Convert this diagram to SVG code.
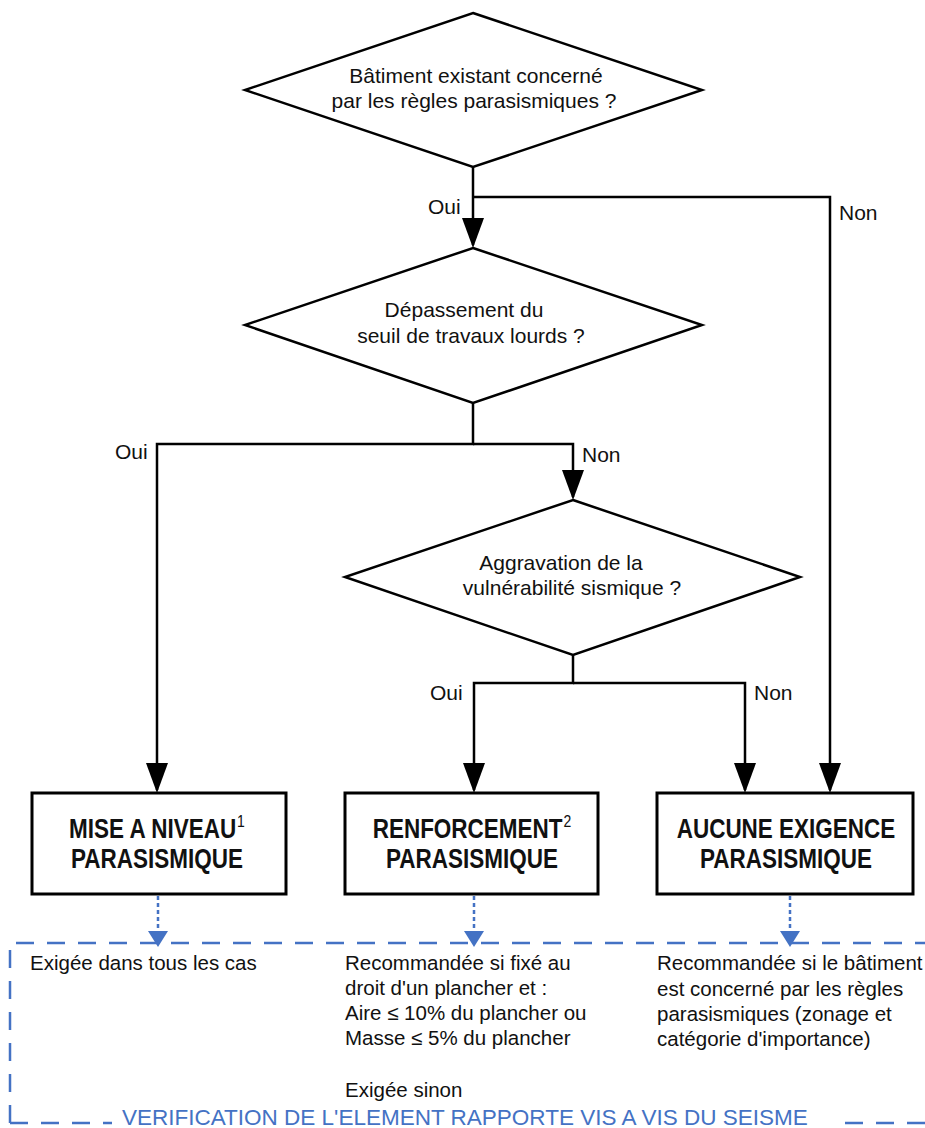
<svg xmlns="http://www.w3.org/2000/svg" width="925" height="1128" viewBox="0 0 925 1128">
  <defs>
    <style>
      .shape { fill: #ffffff; stroke: #000000; stroke-width: 2.5; }
      .box { fill: #ffffff; stroke: #000000; stroke-width: 3; }
      .conn { fill: none; stroke: #000000; stroke-width: 2.5; }
      .dot { fill: none; stroke: #4472C4; stroke-width: 2.5; stroke-dasharray: 4 3; }
      .frame { fill: none; stroke: #4472C4; stroke-width: 2.5; stroke-dasharray: 18 13; }
      .q { font-family: "Liberation Sans", Arial, sans-serif; font-size: 21px; fill: #111111; text-anchor: middle; }
      .lbl { font-family: "Liberation Sans", Arial, sans-serif; font-size: 21px; fill: #111111; }
      .bt { font-family: "Liberation Sans", Arial, sans-serif; font-size: 22.5px; font-weight: bold; fill: #111111; text-anchor: middle; }
      .sup { font-size: 14px; font-weight: normal; }
      .note { font-family: "Liberation Sans", Arial, sans-serif; font-size: 20.5px; fill: #111111; }
      .title { font-family: "Liberation Sans", Arial, sans-serif; font-size: 22.5px; fill: #4472C4; }
    </style>
    <marker id="ah" markerUnits="userSpaceOnUse" markerWidth="30" markerHeight="22" viewBox="0 0 30 22" refX="27" refY="11" orient="auto">
      <path d="M0,0 L30,11 L0,22 Z" fill="#000000"/>
    </marker>
    <marker id="ahb" markerUnits="userSpaceOnUse" markerWidth="16" markerHeight="20" viewBox="0 0 16 20" refX="13" refY="10" orient="auto">
      <path d="M0,0 L16,10 L0,20 Z" fill="#4472C4"/>
    </marker>
  </defs>
  <rect x="0" y="0" width="925" height="1128" fill="#ffffff"/>

  <g id="connectors">
    <path class="conn" d="M473,167 V245" marker-end="url(#ah)"/>
    <path class="conn" d="M473,197 H830 V790" marker-end="url(#ah)"/>
    <path class="conn" d="M473,403 V444 H157 V790" marker-end="url(#ah)"/>
    <path class="conn" d="M473,444 H573 V497" marker-end="url(#ah)"/>
    <path class="conn" d="M573,655 V683 H474 V790" marker-end="url(#ah)"/>
    <path class="conn" d="M573,683 H745 V790" marker-end="url(#ah)"/>
    <text class="lbl" x="428" y="214">Oui</text>
    <text class="lbl" x="839" y="220">Non</text>
    <text class="lbl" x="115" y="459">Oui</text>
    <text class="lbl" x="582" y="462">Non</text>
    <text class="lbl" x="430" y="700">Oui</text>
    <text class="lbl" x="754" y="700">Non</text>
    <path class="dot" d="M158,896 V944" marker-end="url(#ahb)"/>
    <path class="dot" d="M474,896 V944" marker-end="url(#ahb)"/>
    <path class="dot" d="M790,896 V944" marker-end="url(#ahb)"/>
  </g>

  <g id="d1">
    <polygon class="shape" points="473,13 702,90 473,167 245,90"/>
    <text class="q" x="476" y="83">Bâtiment existant concerné</text>
    <text class="q" x="474" y="108">par les règles parasismiques ?</text>
  </g>
  <g id="d2">
    <polygon class="shape" points="473,248 702,325 473,403 245,325"/>
    <text class="q" x="464" y="317">Dépassement du</text>
    <text class="q" x="471" y="343">seuil de travaux lourds ?</text>
  </g>
  <g id="d3">
    <polygon class="shape" points="573,500 800,577 573,655 345,577"/>
    <text class="q" x="561" y="570">Aggravation de la</text>
    <text class="q" x="572" y="595">vulnérabilité sismique ?</text>
  </g>

  <g id="b1">
    <rect class="box" x="32" y="793" width="254" height="101"/>
    <text class="bt" transform="translate(157,838) scale(1,1.2)">MISE A NIVEAU<tspan class="sup" dx="1" dy="-9">1</tspan></text>
    <text class="bt" transform="translate(157,868) scale(1,1.2)">PARASISMIQUE</text>
  </g>
  <g id="b2">
    <rect class="box" x="345" y="793" width="253" height="101"/>
    <text class="bt" transform="translate(472,838) scale(1,1.2)">RENFORCEMENT<tspan class="sup" dx="1" dy="-9">2</tspan></text>
    <text class="bt" transform="translate(472,868) scale(1,1.2)">PARASISMIQUE</text>
  </g>
  <g id="b3">
    <rect class="box" x="657" y="793" width="256" height="101"/>
    <text class="bt" transform="translate(786,838) scale(1,1.2)">AUCUNE EXIGENCE</text>
    <text class="bt" transform="translate(786,868) scale(1,1.2)">PARASISMIQUE</text>
  </g>

  <g id="verification">
    <path class="frame" d="M10,1123 V943 H925"/>
    <path class="frame" d="M10,1123 H112" stroke-dasharray="19 12"/>
    <path class="frame" d="M845,1123 H925"/>
    <text class="title" x="122" y="1125">VERIFICATION DE L'ELEMENT RAPPORTE VIS A VIS DU SEISME</text>
  </g>

  <g id="n1">
    <text class="note" x="30" y="970">Exigée dans tous les cas</text>
  </g>
  <g id="n2">
    <text class="note" x="345" y="970">Recommandée si fixé au</text>
    <text class="note" x="345" y="995">droit d'un plancher et :</text>
    <text class="note" x="345" y="1020">Aire ≤ 10% du plancher ou</text>
    <text class="note" x="345" y="1045">Masse ≤ 5% du plancher</text>
    <text class="note" x="345" y="1097">Exigée sinon</text>
  </g>
  <g id="n3">
    <text class="note" x="657" y="970">Recommandée si le bâtiment</text>
    <text class="note" x="657" y="996">est concerné par les règles</text>
    <text class="note" x="657" y="1021">parasismiques (zonage et</text>
    <text class="note" x="657" y="1046">catégorie d'importance)</text>
  </g>
</svg>
